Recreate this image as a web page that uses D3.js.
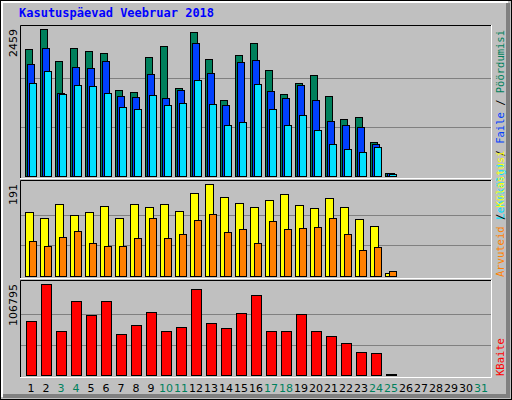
<!DOCTYPE html>
<html><head><meta charset="utf-8">
<script src="https://cdn.jsdelivr.net/npm/d3@7"></script>
<style>body{margin:0;background:#fff}</style>
</head><body><svg width="512" height="400"></svg>
<script>
const days = d3.range(1, 32);
const weekend = [3, 4, 10, 11, 17, 18, 24, 25, 31];
const hits  = [2124,2459,1924,2141,2091,2058,1439,1405,1991,2175,1472,2409,1957,1271,2024,2225,1773,1372,1556,1690,1338,954,987,569,50];
const files = [1874,2141,1389,1824,1807,1924,1338,1322,1706,1305,1439,2225,1723,1188,1907,1940,1422,1305,1522,1271,920,853,820,535,50];
const pages = [1556,1757,1372,1522,1506,1389,1154,1121,1355,1188,1221,1606,1204,853,903,1539,1121,853,1020,770,535,452,401,485,33];
const visits = [132,120,149,126,132,145,120,149,143,149,134,172,191,163,151,143,157,170,147,141,161,143,118,103,6];
const sites  = [72,62,82,93,68,62,62,78,120,78,87,116,128,91,97,68,114,97,99,101,120,87,55,60,10];
const kbytes = [63010,106443,51278,86490,70060,86490,47758,58323,73580,51278,55976,100575,60670,54803,72410,93530,51278,51278,71240,51278,45420,37200,26640,25470,900];

const svg = d3.select("svg");
const W = 512, H = 400;
const font = "DejaVu Sans Mono, monospace";

// frame with bevel
svg.append("rect").attr("width", W).attr("height", H).attr("fill", "#c0c0c0");
svg.append("rect").attr("x", 0.5).attr("y", 0.5).attr("width", W - 1).attr("height", H - 1)
    .attr("fill", "none").attr("stroke", "#000");
svg.append("path").attr("d", "M2,397V2H508").attr("fill", "none").attr("stroke", "#fff").attr("stroke-width", 2);
svg.append("path").attr("d", "M508,3V396H3").attr("fill", "none").attr("stroke", "#808080").attr("stroke-width", 4);

svg.append("text").attr("x", 19).attr("y", 17).attr("fill", "#0000ff")
    .attr("font-family", font).attr("font-weight", "bold").attr("font-size", 12)
    .text("Kasutuspäevad Veebruar 2018");

const x = d3.scaleLinear().domain([1, 32]).range([25, 490]);

function panel(top, bottom, max, label) {
    svg.append("rect").attr("x", 20).attr("y", top).attr("width", 471).attr("height", bottom - top)
        .attr("fill", "#c0c0c0");
    svg.append("path").attr("d", `M20.5,${bottom}V${top + 0.5}H491`).attr("fill", "none").attr("stroke", "#000");
    svg.append("path").attr("d", `M491.5,${top}V${bottom + 0.5}H20`).attr("fill", "none").attr("stroke", "#fff");
    const base = bottom - 2, y = d3.scaleLinear().domain([0, max]).range([base, top + 4]);
    [1 / 3, 2 / 3].forEach(f => {
        const gy = Math.round(y(max * f)) + 0.5;
        svg.append("line").attr("x1", 21).attr("x2", 491).attr("y1", gy).attr("y2", gy)
            .attr("stroke", "#808080");
    });
    svg.append("text").attr("transform", `translate(17,${top + 4}) rotate(-90)`)
        .attr("text-anchor", "end").attr("font-family", "DejaVu Sans, sans-serif").attr("font-size", 11)
        .text(label);
    return y;
}

function bars(y, data, off, w, color) {
    svg.append("g").selectAll("rect").data(data).join("rect")
        .attr("x", (d, i) => x(i + 1) + off + 0.5)
        .attr("y", d => Math.round(y(d)) + 0.5)
        .attr("width", w)
        .attr("height", d => Math.max(0, y(0) - Math.round(y(d))))
        .attr("fill", color).attr("stroke", "#000");
}

const y1 = panel(25, 178, 2459, "2459");
bars(y1, hits, 0, 7, "#00805c");
bars(y1, files, 2, 7, "#0040ff");
bars(y1, pages, 4, 7, "#00e0ff");

const y2 = panel(180, 278, 191, "191");
bars(y2, visits, 0, 8, "#ffff00");
bars(y2, sites, 4, 7, "#ff8000");

const y3 = panel(280, 377, 106795, "106795");
bars(y3, kbytes, 1, 10, "#ff0000");

// day labels
svg.append("g").selectAll("text").data(days).join("text")
    .attr("x", d => x(d) + 6).attr("y", 392).attr("text-anchor", "middle")
    .attr("font-family", "DejaVu Sans, sans-serif").attr("font-size", 11)
    .attr("fill", d => weekend.includes(d) ? "#00805c" : "#000")
    .text(d => d);

// right-side legends
function legend(yPos, anchor, parts) {
    const t = svg.append("text").attr("transform", `translate(504,${yPos}) rotate(-90)`)
        .attr("text-anchor", anchor).attr("font-family", font).attr("font-size", 10.5);
    parts.forEach(([s, c]) => t.append("tspan").attr("fill", c).text(s));
}
legend(30, "end", [["Lehekülgi", "#00e0ff"], [" / ", "#000"], ["Faile", "#0040ff"], [" / ", "#000"], ["Pöördumisi", "#00805c"]]);
legend(277, "start", [["Arvuteid", "#ff8000"], [" / ", "#000"], ["Külastusi", "#ffff00"]]);
legend(376, "start", [["KBaite", "#ff0000"]]);
</script></body></html>
